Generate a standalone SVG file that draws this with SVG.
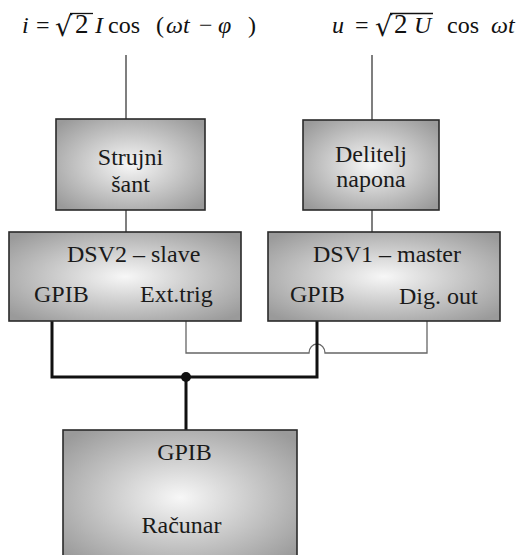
<svg xmlns="http://www.w3.org/2000/svg" width="521" height="555" viewBox="0 0 521 555">
<defs>
<radialGradient id="g" cx="50%" cy="50%" r="65%">
<stop offset="0" stop-color="#f7f7f7"/>
<stop offset="1" stop-color="#9a9a9a"/>
</radialGradient>
</defs>
<style>
.box{fill:url(#g);stroke:#2a2a2a;stroke-width:1.6}
text{font-family:'Liberation Serif','Times New Roman','DejaVu Serif',serif}
.t{font-size:24px;fill:#1a1a1a}
.c{text-anchor:middle}
.m{font-size:24px;fill:#111}
.it{font-style:italic}
.rt{font-family:'DejaVu Serif','Liberation Serif',serif;font-size:27px}
.thin{fill:none;stroke:#555;stroke-width:1.5}
.sig{fill:none;stroke:#666;stroke-width:1.3}
.bus{fill:none;stroke:#111;stroke-width:3}
</style>
<rect width="521" height="555" fill="#fff"/>
<g id="eq-i">
<text class="m" y="33"><tspan class="it" x="22">i</tspan><tspan x="36">=</tspan><tspan class="rt" x="55" y="36">√</tspan><tspan x="75" y="33" font-size="27">2</tspan><tspan class="it" x="95">I</tspan><tspan x="108">cos</tspan><tspan x="156">(</tspan><tspan class="it" x="166">ωt</tspan><tspan x="199">−</tspan><tspan class="it" x="218">φ</tspan><tspan x="248">)</tspan></text>
<line x1="70" y1="13.5" x2="93" y2="13.5" stroke="#111" stroke-width="1.3"/>
</g>
<g id="eq-u">
<text class="m" y="33"><tspan class="it" x="332">u</tspan><tspan x="355">=</tspan><tspan class="rt" x="375" y="36">√</tspan><tspan x="394" y="33" font-size="27">2</tspan><tspan class="it" x="414">U</tspan><tspan x="447">cos</tspan><tspan class="it" x="491">ωt</tspan></text>
<line x1="390" y1="13.5" x2="433" y2="13.5" stroke="#111" stroke-width="1.3"/>
</g>
<g id="connectors">
<path class="thin" d="M126 55 V119 M126 210 V232 M372 55 V120 M372 210 V232"/>
<path class="sig" d="M427 321 V353 H325 A8 9 0 0 0 309 353 H186 V321"/>
<path class="bus" d="M52 321 V377 H317 V321 M186 377 V431"/>
<circle cx="186" cy="377" r="5" fill="#111"/>
</g>
<g id="strujni-sant">
<rect class="box" x="56" y="119" width="149" height="91"/>
<text class="t c" x="130.5" y="165">Strujni</text>
<text class="t c" x="130.5" y="192">šant</text>
</g>
<g id="delitelj-napona">
<rect class="box" x="303" y="120" width="136" height="90"/>
<text class="t c" x="371" y="162">Delitelj</text>
<text class="t c" x="371" y="187">napona</text>
</g>
<g id="dsv2">
<rect class="box" x="9" y="232" width="232" height="89"/>
<text class="t" x="67" y="262">DSV2 – slave</text>
<text class="t" x="34" y="302">GPIB</text>
<text class="t" x="140" y="302">Ext.trig</text>
</g>
<g id="dsv1">
<rect class="box" x="268" y="232" width="232" height="89"/>
<text class="t" x="313" y="262">DSV1 – master</text>
<text class="t" x="290" y="302">GPIB</text>
<text class="t" x="399" y="304">Dig. out</text>
</g>
<g id="racunar">
<rect class="box" x="63" y="430" width="234" height="135"/>
<text class="t c" x="184.5" y="460">GPIB</text>
<text class="t c" x="181.5" y="533" font-size="29">Računar</text>
</g>
</svg>
